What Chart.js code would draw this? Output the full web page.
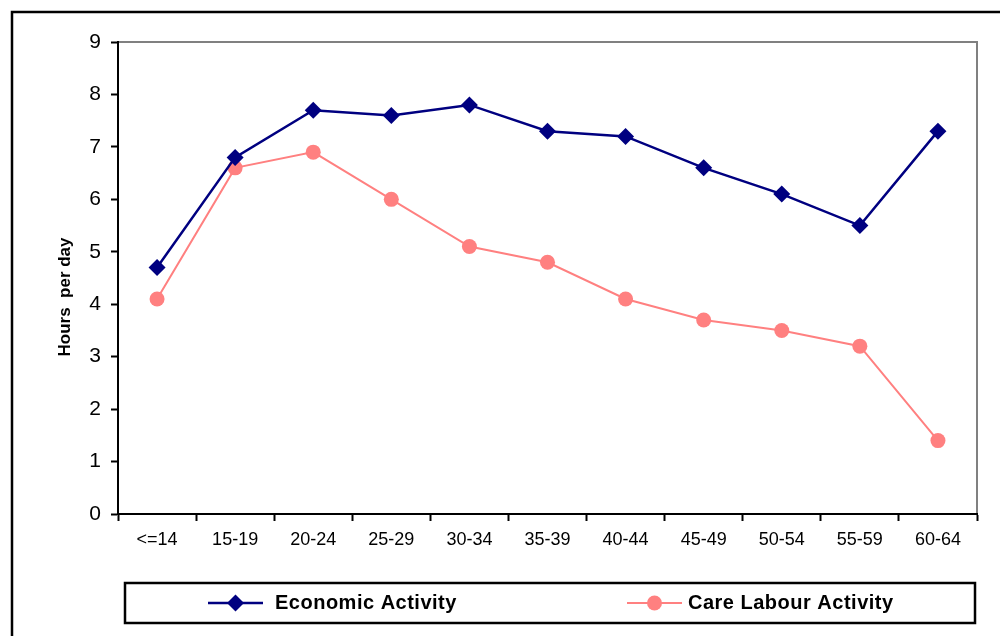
<!DOCTYPE html>
<html>
<head>
<meta charset="utf-8">
<script src="https://cdn.jsdelivr.net/npm/chart.js@4"></script>
<style>
  html, body { margin: 0; padding: 0; background: #fff; }
  canvas { display: block; }
</style>
</head>
<body>
<canvas id="myChart" width="1000" height="636"></canvas>
<script>
// data
const ageGroups = ['<=14', '15-19', '20-24', '25-29', '30-34', '35-39', '40-44', '45-49', '50-54', '55-59', '60-64'];
const economicHours = [4.7, 6.8, 7.7, 7.6, 7.8, 7.3, 7.2, 6.6, 6.1, 5.5, 7.3];
const careHours = [4.1, 6.6, 6.9, 6.0, 5.1, 4.8, 4.1, 3.7, 3.5, 3.2, 1.4];
const seriesNames = ['Economic Activity', 'Care Labour Activity'];
const yMin = 0, yMax = 9, yStep = 1;
const yTitle = 'Hours  per day';

const FONT = '"Liberation Sans", Arial, sans-serif';

// frame, plot border, y title and boxed legend
const decor = {
    id: 'decor',
    beforeDraw(chart) {
        const ctx = chart.ctx;
        const a = chart.chartArea;
        ctx.save();
        ctx.fillStyle = '#fff';
        ctx.fillRect(0, 0, chart.width, chart.height);
        // outer frame (runs off right and bottom)
        ctx.strokeStyle = '#000';
        ctx.lineWidth = 2.5;
        ctx.strokeRect(12, 12, chart.width + 20, chart.height + 20);
        // plot area border
        ctx.strokeStyle = '#808080';
        ctx.lineWidth = 2;
        ctx.strokeRect(a.left, a.top, a.right - a.left, a.bottom - a.top);
        ctx.restore();
    },
    afterDraw(chart) {
        const ctx = chart.ctx;
        ctx.save();
        // y axis title
        ctx.translate(65, 297);
        ctx.rotate(-Math.PI / 2);
        ctx.font = 'bold 17px ' + FONT;
        ctx.fillStyle = '#000';
        ctx.textAlign = 'center';
        ctx.textBaseline = 'middle';
        ctx.fillText(yTitle, 0, 0);
        ctx.restore();

        // legend box
        ctx.save();
        ctx.strokeStyle = '#000';
        ctx.lineWidth = 2.5;
        ctx.strokeRect(125, 583, 850, 40);
        const ly = 603;
        const slots = [
            { x0: 208, x1: 263, tx: 275 },
            { x0: 627, x1: 682, tx: 688 }
        ];
        chart.data.datasets.forEach((ds, i) => {
            const s = slots[i];
            ctx.strokeStyle = ds.borderColor;
            ctx.lineWidth = ds.borderWidth;
            ctx.beginPath();
            ctx.moveTo(s.x0, ly);
            ctx.lineTo(s.x1, ly);
            ctx.stroke();
            ctx.fillStyle = ds.backgroundColor;
            Chart.helpers.drawPoint(ctx, {
                pointStyle: ds.pointStyle,
                radius: ds.pointRadius,
                rotation: 0,
                borderWidth: 0
            }, (s.x0 + s.x1) / 2, ly);
            ctx.fillStyle = '#000';
            ctx.font = 'bold 20px ' + FONT;
            ctx.letterSpacing = '0.5px';
            ctx.textAlign = 'left';
            ctx.textBaseline = 'middle';
            ctx.fillText(ds.label, s.tx, ly);
        });
        ctx.restore();
    }
};

const ctx = document.getElementById('myChart');
const chart = new Chart(ctx, {
    type: 'line',
    data: {
        labels: ageGroups,
        datasets: [
            {
                label: seriesNames[0],
                data: economicHours,
                borderColor: '#000080',
                backgroundColor: '#000080',
                borderWidth: 2.5,
                pointStyle: 'rectRot',
                pointRadius: 8.5,
                pointBorderWidth: 0,
                tension: 0,
                fill: false
            },
            {
                label: seriesNames[1],
                data: careHours,
                borderColor: '#FF8080',
                backgroundColor: '#FF8080',
                borderWidth: 2,
                pointStyle: 'circle',
                pointRadius: 7.5,
                pointBorderWidth: 0,
                tension: 0,
                fill: false
            }
        ]
    },
    options: {
        responsive: false,
        animation: false,
        events: [],
        layout: { padding: { left: 40, top: 42, right: 23, bottom: 72 } },
        scales: {
            x: {
                offset: true,
                afterFit: s => { s.height = 50; },
                grid: { offset: true, drawOnChartArea: false, tickLength: 7, tickColor: '#000', tickWidth: 2 },
                border: { color: '#000', width: 2 },
                ticks: { color: '#000', font: { family: FONT, size: 18 }, padding: 8, maxRotation: 0, autoSkip: false }
            },
            y: {
                min: yMin,
                max: yMax,
                afterFit: s => { s.width = 78; },
                grid: { drawOnChartArea: false, tickLength: 7, tickColor: '#000', tickWidth: 2 },
                border: { color: '#000', width: 2 },
                ticks: { stepSize: yStep, color: '#000', font: { family: FONT, size: 21 }, padding: 10 }
            }
        },
        plugins: {
            legend: { display: false },
            tooltip: { enabled: false }
        }
    },
    plugins: [decor]
});
</script>
</body>
</html>
